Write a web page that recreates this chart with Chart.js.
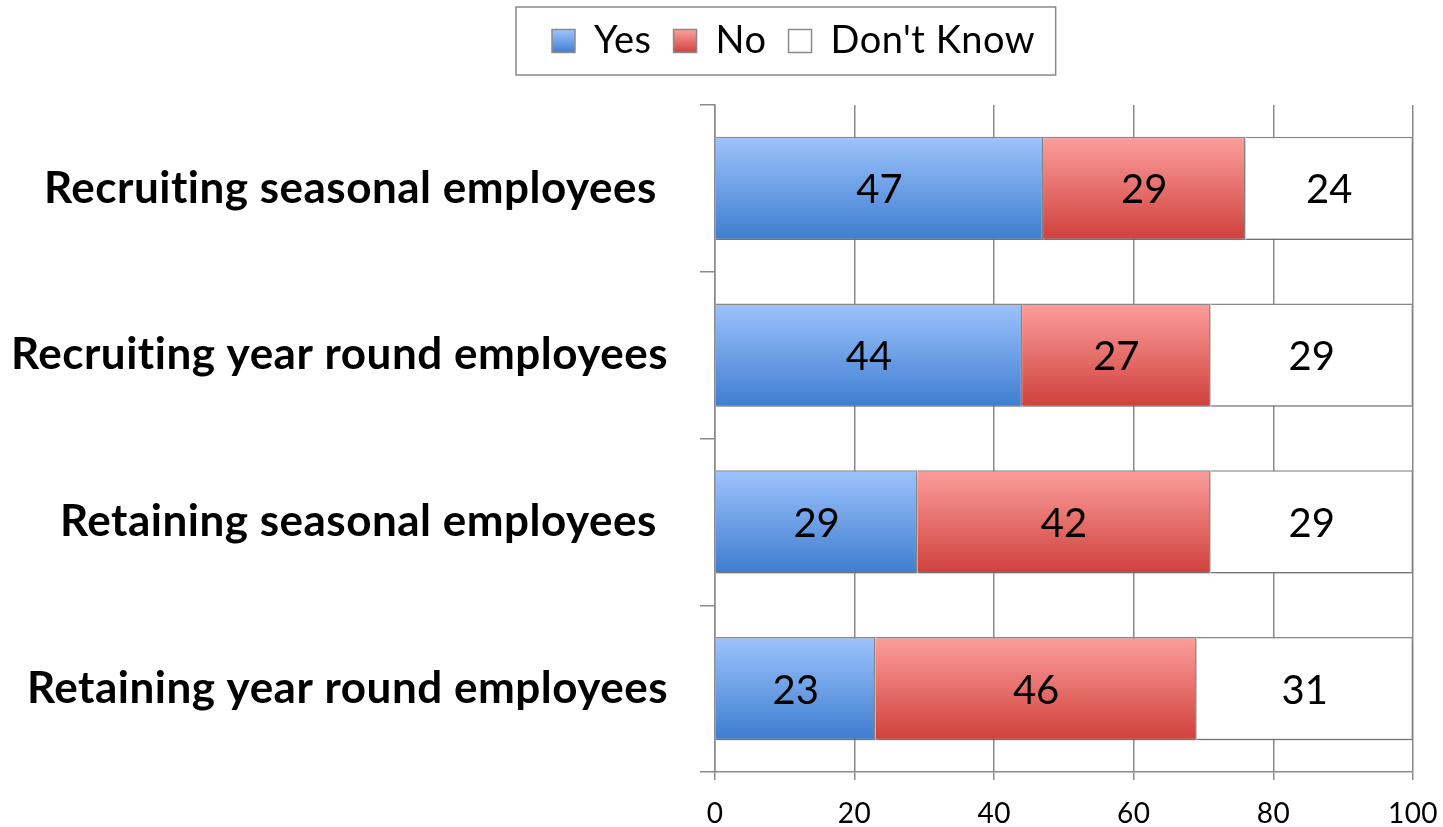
<!DOCTYPE html>
<html>
<head>
<meta charset="utf-8">
<script src="https://cdn.jsdelivr.net/npm/chart.js@4.4.1/dist/chart.umd.min.js"></script>
<style>
  html, body { margin: 0; padding: 0; background: #ffffff; }
  #wrap { width: 1443px; height: 827px; }
</style>
</head>
<body>
<div id="wrap"><canvas id="chart" width="1443" height="827"></canvas></div>
<script>
// two of the source labels carry a trailing space, which pushes them left
const categories = [
  'Recruiting seasonal employees ',
  'Recruiting year round employees',
  'Retaining seasonal employees ',
  'Retaining year round employees',
];
const yesValues = [47, 44, 29, 23];
const noValues = [29, 27, 42, 46];
const dontKnowValues = [24, 29, 29, 31];
const xTicks = [0, 20, 40, 60, 80, 100];

const FONT = 'Lato, "Open Sans", sans-serif';
const GRID = '#8a8a8a';
const BAR_PCT = 0.62;
const LEGEND_LEFT = 552;

function barGradient(top, bottom) {
  return (ctx) => {
    const chart = ctx.chart;
    const scale = chart.scales.y;
    if (!chart.chartArea || !scale || ctx.dataIndex === undefined) return bottom;
    const band = scale.height / categories.length;
    const y = scale.getPixelForValue(ctx.dataIndex);
    const h = band * BAR_PCT / 2;
    const g = chart.ctx.createLinearGradient(0, y - h, 0, y + h);
    g.addColorStop(0, top);
    g.addColorStop(1, bottom);
    return g;
  };
}

function swatchGradient(chart, top, bottom) {
  const g = chart.ctx.createLinearGradient(0, 30, 0, 53);
  g.addColorStop(0, top);
  g.addColorStop(1, bottom);
  return g;
}

function legendShift(lg) {
  const boxes = lg.legendHitBoxes || [];
  if (!boxes.length) return 0;
  return LEGEND_LEFT - Math.min(...boxes.map((b) => b.left));
}

// legend sits higher and further right than chart.js would put it
const legendPlace = {
  id: 'legendPlace',
  beforeLayout(chart) {
    const lg = chart.legend;
    if (!lg || lg._patched) return;
    const fit = lg.fit.bind(lg);
    lg.fit = function () {
      fit();
      this.height += 35;
    };
    const draw = lg.draw.bind(lg);
    lg.draw = function () {
      const c = this.ctx;
      c.save();
      c.translate(legendShift(this), 0);
      draw();
      c.restore();
    };
    lg._patched = true;
  },
  beforeDraw(chart) {
    // spacing breaks the "ti" ligature of Lato
    chart.ctx.letterSpacing = '0.5px';
  },
  beforeDatasetsDraw(chart) {
    chart.ctx.letterSpacing = '0px';
  },
};

const barShadow = {
  id: 'barShadow',
  beforeDatasetDraw(chart) {
    const c = chart.ctx;
    c.save();
    c.shadowColor = 'rgba(0,0,0,0.22)';
    c.shadowBlur = 5;
    c.shadowOffsetY = 3;
  },
  afterDatasetDraw(chart) {
    chart.ctx.restore();
  },
};

const valueLabels = {
  id: 'valueLabels',
  afterDatasetsDraw(chart) {
    const c = chart.ctx;
    c.save();
    c.font = `40px ${FONT}`;
    c.fillStyle = '#000000';
    c.textAlign = 'center';
    c.textBaseline = 'middle';
    chart.data.datasets.forEach((ds, di) => {
      chart.getDatasetMeta(di).data.forEach((bar, i) => {
        c.fillText(String(ds.data[i]), (bar.x + bar.base) / 2, bar.y + 2);
      });
    });
    c.restore();
  },
};

const legendFrame = {
  id: 'legendFrame',
  afterDraw(chart) {
    const boxes = chart.legend.legendHitBoxes;
    if (!boxes || !boxes.length) return;
    const shift = legendShift(chart.legend);
    const left = Math.min(...boxes.map((b) => b.left)) + shift;
    const right = Math.max(...boxes.map((b) => b.left + b.width)) + shift;
    const mid = boxes[0].top + boxes[0].height / 2;
    const c = chart.ctx;
    c.save();
    c.strokeStyle = GRID;
    c.lineWidth = 1.5;
    c.strokeRect(left - 36, mid - 34, right - left + 64, 68);
    c.restore();
  },
};

const chart = new Chart(document.getElementById('chart'), {
  type: 'bar',
  data: {
    labels: categories,
    datasets: [
      {
        label: 'Yes',
        data: yesValues,
        backgroundColor: barGradient('#9dc3fc', '#3d7dd0'),
        borderColor: GRID,
        borderWidth: 1.5,
      },
      {
        label: 'No',
        data: noValues,
        backgroundColor: barGradient('#fc9e9c', '#cf403b'),
        borderColor: GRID,
        borderWidth: 1.5,
      },
      {
        label: "Don't Know",
        data: dontKnowValues,
        backgroundColor: '#ffffff',
        borderColor: GRID,
        borderWidth: 1.5,
      },
    ],
  },
  options: {
    indexAxis: 'y',
    responsive: false,
    animation: false,
    barPercentage: BAR_PCT,
    categoryPercentage: 1,
    layout: { padding: { top: 0, right: 30, left: 0, bottom: 0 } },
    plugins: {
      tooltip: { enabled: false },
      legend: {
        position: 'top',
        labels: {
          font: { family: FONT, size: 38 },
          color: '#000000',
          boxWidth: 23,
          boxHeight: 23,
          padding: 22,
          generateLabels(chart) {
            const fills = [
              swatchGradient(chart, '#9dc3fc', '#3d7dd0'),
              swatchGradient(chart, '#fc9e9c', '#cf403b'),
              '#ffffff',
            ];
            return chart.data.datasets.map((ds, i) => ({
              text: ds.label,
              fillStyle: fills[i],
              strokeStyle: GRID,
              lineWidth: 1.5,
              fontColor: '#000000',
              datasetIndex: i,
              hidden: false,
            }));
          },
        },
      },
    },
    scales: {
      x: {
        stacked: true,
        min: 0,
        max: 100,
        afterBuildTicks(scale) {
          scale.ticks = xTicks.map((v) => ({ value: v }));
        },
        afterFit(scale) {
          scale.height = 55;
          scale.paddingLeft = 0;
          scale.paddingRight = 0;
        },
        grid: { color: GRID, lineWidth: 1.5, tickLength: 8 },
        border: { display: true, color: GRID, width: 1.5 },
        ticks: {
          font: { family: FONT, size: 28 },
          color: '#000000',
          padding: 17,
        },
      },
      y: {
        stacked: true,
        afterFit(scale) {
          scale.width = 715;
          scale.paddingTop = 0;
          scale.paddingBottom = 0;
        },
        grid: {
          offset: true,
          drawOnChartArea: false,
          color: GRID,
          lineWidth: 1.5,
          tickLength: 15,
        },
        border: { display: true, color: GRID, width: 1.5 },
        ticks: {
          font: { family: FONT, size: 44, weight: 'bold' },
          color: '#000000',
          padding: 32,
        },
      },
    },
  },
  plugins: [legendPlace, barShadow, valueLabels, legendFrame],
});
</script>
</body>
</html>
